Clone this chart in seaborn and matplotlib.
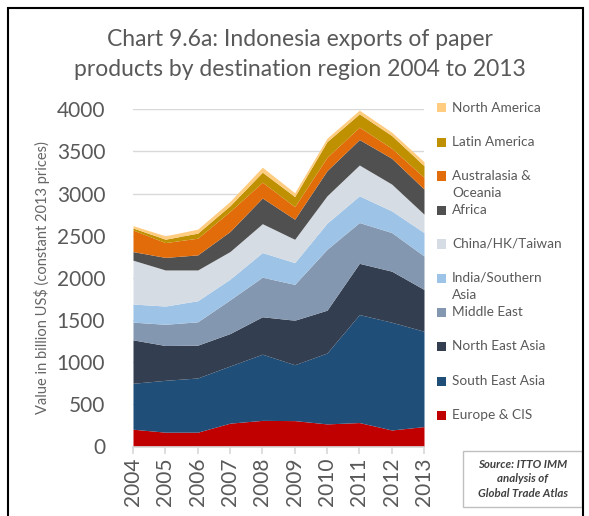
import numpy as np
import pandas as pd
import matplotlib
matplotlib.use("Agg")
import matplotlib.pyplot as plt
from matplotlib.patches import Rectangle
import seaborn as sns

years = [2004, 2005, 2006, 2007, 2008, 2009, 2010, 2011, 2012, 2013]

europe_cis = [205, 170, 170, 277, 310, 307, 268, 284, 196, 236]
south_east_asia = [545, 615, 643, 678, 785, 663, 841, 1281, 1278, 1131]
north_east_asia = [515, 413, 389, 385, 444, 528, 508, 608, 606, 496]
middle_east = [210, 252, 277, 400, 469, 425, 722, 484, 458, 397]
india_southern_asia = [215, 216, 250, 245, 293, 258, 310, 317, 257, 278]
china_hk_taiwan = [520, 428, 365, 328, 342, 277, 325, 365, 318, 218]
africa = [102, 149, 179, 238, 305, 238, 298, 302, 306, 298]
australasia_oceania = [256, 176, 198, 239, 187, 149, 159, 147, 119, 139]
latin_america = [24, 40, 60, 67, 119, 120, 186, 158, 151, 138]
north_america = [28, 40, 47, 51, 59, 45, 40, 44, 40, 48]

series_names = ["Europe & CIS", "South East Asia", "North East Asia", "Middle East",
                "India/Southern Asia", "China/HK/Taiwan", "Africa",
                "Australasia & Oceania", "Latin America", "North America"]
legend_labels = ["Europe & CIS", "South East Asia", "North East Asia", "Middle East",
                 "India/Southern\nAsia", "China/HK/Taiwan", "Africa",
                 "Australasia &\nOceania", "Latin America", "North America"]
series_values = [europe_cis, south_east_asia, north_east_asia, middle_east,
                 india_southern_asia, china_hk_taiwan, africa,
                 australasia_oceania, latin_america, north_america]
colors = ["#C00000", "#1F4E79", "#333F50", "#8497B0", "#9DC3E6",
          "#D6DCE4", "#505050", "#E36C0A", "#BF9000", "#FFCC80"]

df = pd.DataFrame({n: v for n, v in zip(series_names, series_values)}, index=years)

sns.set_theme(style="white")
plt.rcParams["font.family"] = ["Lato", "DejaVu Sans"]

W, H = 589, 516
fig = plt.figure(figsize=(W / 100, H / 100), dpi=100)
fig.patch.set_facecolor("white")

ax_l, ax_r, ax_t, ax_b = 133, 424, 109.3, 446.5
ax = fig.add_axes([ax_l / W, 1 - ax_b / H, (ax_r - ax_l) / W, (ax_b - ax_t) / H])

ax.stackplot(df.index, [df[c].values for c in series_names], colors=colors,
             linewidth=0, zorder=2)

ax.set_xlim(years[0], years[-1])
ax.set_ylim(0, 4000)
ax.set_yticks(np.arange(0, 4001, 500))
ax.set_xticks(years)
ax.set_xticklabels([str(y) for y in years], rotation=90)
ax.yaxis.grid(True, color="#D9D9D9", linewidth=1, zorder=0)
ax.set_axisbelow(True)
for s in ["left", "right", "top"]:
    ax.spines[s].set_visible(False)
ax.spines["bottom"].set_color("#D9D9D9")
ax.spines["bottom"].set_zorder(3)
ax.tick_params(axis="x", which="both", bottom=True, length=5, color="#D9D9D9",
               labelsize=15, labelcolor="#595959", pad=3)
ax.tick_params(axis="y", left=False, labelsize=15, labelcolor="#595959", pad=14)
ax.set_ylabel("Value in billion US$ (constant 2013 prices)", fontsize=10.5,
              color="#666666", labelpad=8)
ax.yaxis.set_label_coords(-0.285, 0.5)

# title
fig.text(300 / W, 1 - 40 / H, "Chart 9.6a: Indonesia exports of paper",
         ha="center", va="center", fontsize=16.5, color="#595959")
fig.text(300 / W, 1 - 70 / H, "products by destination region 2004 to 2013",
         ha="center", va="center", fontsize=16.5, color="#595959")

# legend (top entry = last series)
leg_y = [415, 381, 346, 312, 278, 244, 210, 176, 142, 108]
for lab, col, yy in zip(legend_labels, colors, leg_y):
    fig.add_artist(Rectangle(((441 - 4.5) / W, 1 - (yy + 4.5) / H), 9 / W, 9 / H,
                             transform=fig.transFigure, facecolor=col,
                             edgecolor="none"))
    fig.text(452 / W, 1 - (yy - 6) / H, lab, ha="left", va="top",
             fontsize=9.8, color="#595959", linespacing=1.5)

# source box
fig.add_artist(Rectangle((463 / W, 1 - 507 / H), 119 / W, 56 / H,
                         transform=fig.transFigure, facecolor="white",
                         edgecolor="#BFBFBF", linewidth=1))
fig.text(522.5 / W, 1 - 479 / H, "Source: ITTO IMM\nanalysis of\nGlobal Trade Atlas",
         ha="center", va="center", fontsize=8.3, color="#404040",
         fontstyle="italic", fontweight="bold", linespacing=1.35)

# outer frame
fig.add_artist(Rectangle((8 / W, -0.05), (583 - 8) / W, (1 - 8 / H) + 0.05,
                         transform=fig.transFigure, facecolor="none",
                         edgecolor="black", linewidth=1.5))

fig.savefig("out.png", dpi=100, facecolor="white")
